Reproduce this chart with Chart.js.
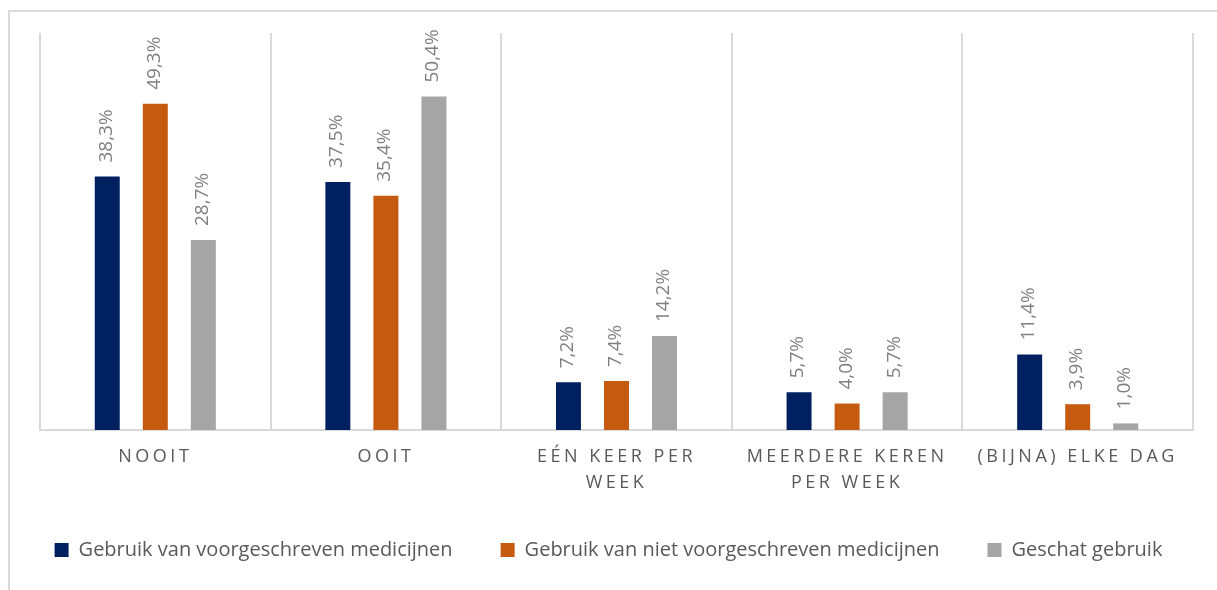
<!DOCTYPE html>
<html>
<head>
<meta charset="utf-8">
<script src="https://cdn.jsdelivr.net/npm/chart.js@4/dist/chart.umd.min.js"></script>
<style>
  html, body { margin: 0; padding: 0; background: #fff; overflow: hidden; }
  #wrap { position: relative; width: 1217px; height: 590px; }
  #frame { position: absolute; left: 8px; top: 10px; width: 1260px; height: 640px; border: 2px solid #d9d9d9; box-sizing: border-box; }
  #chart { position: absolute; left: 0; top: 0; }
</style>
</head>
<body>
<div id="wrap">
  <div id="frame"></div>
  <canvas id="chart" width="1217" height="590"></canvas>
</div>
<script>
const categories = [
  'NOOIT',
  'OOIT',
  ['EÉN KEER PER', 'WEEK'],
  ['MEERDERE KEREN', 'PER WEEK'],
  '(BIJNA) ELKE DAG'
];
const seriesNames = [
  'Gebruik van voorgeschreven medicijnen',
  'Gebruik van niet voorgeschreven medicijnen',
  'Geschat gebruik'
];
const voorgeschreven = [38.3, 37.5, 7.2, 5.7, 11.4];
const nietVoorgeschreven = [49.3, 35.4, 7.4, 4.0, 3.9];
const geschat = [28.7, 50.4, 14.2, 5.7, 1.0];
const colors = ['#002060', '#c55a11', '#a5a5a5'];

const font = "'Open Sans', 'DejaVu Sans', sans-serif";

// value labels, rotated, above each bar
const barLabels = {
  id: 'barLabels',
  afterDatasetsDraw(chart) {
    const ctx = chart.ctx;
    ctx.save();
    ctx.font = '19px ' + font;
    ctx.fillStyle = '#7f7f7f';
    ctx.textAlign = 'left';
    ctx.textBaseline = 'middle';
    chart.data.datasets.forEach((ds, di) => {
      chart.getDatasetMeta(di).data.forEach((bar, i) => {
        const txt = ds.data[i].toFixed(1).replace('.', ',') + '%';
        ctx.save();
        ctx.translate(bar.x - 1, bar.y - 14);
        ctx.rotate(-Math.PI / 2);
        ctx.fillText(txt, 0, 0);
        ctx.restore();
      });
    });
    ctx.restore();
  }
};

// spaced capitals on the category axis
const spacedTicks = {
  id: 'spacedTicks',
  beforeDraw(chart) {
    const sc = chart.scales.x;
    if (sc._spaced) return;
    const orig = sc.drawLabels;
    sc.drawLabels = function (area) {
      const ctx = this.ctx;
      ctx.save();
      ctx.letterSpacing = '3.5px';
      orig.call(this, area);
      ctx.restore();
    };
    sc._spaced = true;
  }
};

const hiddenAxis = (pos, w) => ({
  position: pos,
  display: true,
  min: 0,
  max: 60,
  ticks: { display: false },
  grid: { display: false },
  border: { display: false },
  afterFit(s) { s.width = w; }
});

new Chart(document.getElementById('chart'), {
  type: 'bar',
  data: {
    labels: categories,
    datasets: [
      { label: seriesNames[0], data: voorgeschreven, backgroundColor: colors[0] },
      { label: seriesNames[1], data: nietVoorgeschreven, backgroundColor: colors[1] },
      { label: seriesNames[2], data: geschat, backgroundColor: colors[2] }
    ]
  },
  options: {
    responsive: false,
    animation: false,
    layout: { padding: { left: 0, right: 0, top: 33, bottom: 20 } },
    datasets: { bar: { categoryPercentage: 0.625, barPercentage: 0.52 } },
    scales: {
      x: {
        grid: { color: '#d9d9d9', lineWidth: 2, drawTicks: false, offset: true },
        border: { color: '#d9d9d9', width: 2 },
        ticks: {
          color: '#595959',
          font: { family: font, size: 18, lineHeight: 1.45 },
          padding: 14,
          maxRotation: 0,
          autoSkip: false
        },
        afterFit(s) { s.height = 62; }
      },
      y: hiddenAxis('left', 40),
      yRight: hiddenAxis('right', 24)
    },
    plugins: {
      legend: {
        position: 'bottom',
        labels: {
          color: '#595959',
          font: { family: font, size: 20 },
          boxWidth: 14,
          boxHeight: 14,
          padding: 48
        }
      },
      tooltip: { enabled: false }
    }
  },
  plugins: [barLabels, spacedTicks]
});
</script>
</body>
</html>
